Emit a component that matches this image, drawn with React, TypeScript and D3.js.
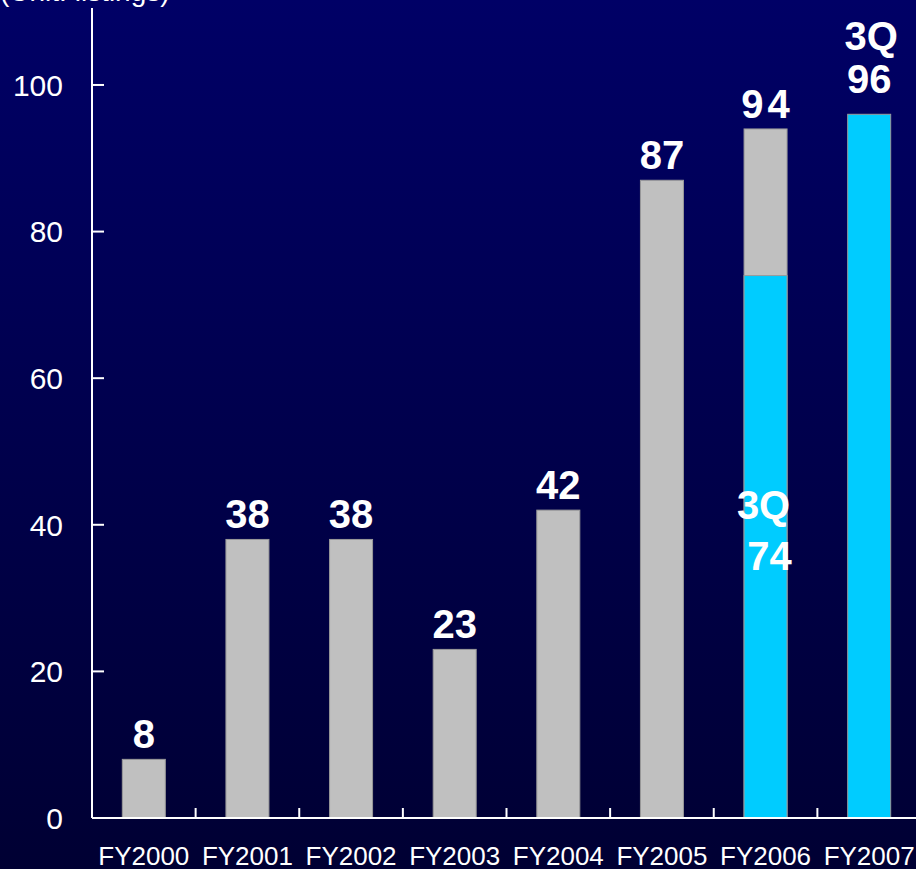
import React from "react";
import * as d3 from "d3";

const categories = ["FY2000", "FY2001", "FY2002", "FY2003", "FY2004", "FY2005", "FY2006", "FY2007"];
const fullYear = [8, 38, 38, 23, 42, 87, 94, null];
const thirdQuarter = [null, null, null, null, null, null, 74, 96];
const yTicks = [0, 20, 40, 60, 80, 100];
const unitLabel = "(Unit: listings)";

const W = 916;
const H = 869;
const GRAY = "#C0C0C0";
const CYAN = "#00CCFF";
const FONT = "'Liberation Sans', Arial, sans-serif";

export default function App() {
  const x = d3.scaleBand<string>().domain(categories).range([92, 921]).paddingInner(0.585).paddingOuter(0.2925);
  const y = d3.scaleLinear().domain([0, 110.5]).range([818, 8]);
  const step = x.step();
  const bw = x.bandwidth();

  return (
    <svg width={W} height={H} style={{ position: "absolute", left: 0, top: 0, display: "block" }}>
      <defs>
        <linearGradient id="bg" x1="0" y1="0" x2="0" y2="1">
          <stop offset="0" stopColor="#000066" />
          <stop offset="1" stopColor="#000033" />
        </linearGradient>
      </defs>
      <rect x={0} y={0} width={W} height={H} fill="url(#bg)" />

      <text x={0} y={1} fill="#fff" fontFamily={FONT} fontSize={28}>{unitLabel}</text>

      {/* bars */}
      {categories.map((c, i) => {
        const fy = fullYear[i];
        const q = thirdQuarter[i];
        const bx = x(c)!;
        return (
          <g key={c}>
            {fy != null && (
              <rect x={bx} y={y(fy)} width={bw} height={y(0) - y(fy)} fill={GRAY} stroke="#999" strokeWidth={1} />
            )}
            {q != null && (
              <rect x={bx} y={y(q)} width={bw} height={y(0) - y(q)} fill={CYAN} stroke="#9a9a9a" strokeWidth={1} />
            )}
          </g>
        );
      })}

      {/* value labels */}
      {categories.map((c, i) => {
        const fy = fullYear[i];
        const q = thirdQuarter[i];
        const cx = x(c)! + bw / 2;
        const els: React.ReactNode[] = [];
        if (fy != null) {
          els.push(
            <text key="fy" x={cx + (fy === 94 ? 2 : 0)} y={y(fy) - 11} textAnchor="middle" fill="#fff" fontFamily={FONT} fontWeight="bold" fontSize={40} letterSpacing={fy === 94 ? 4 : 0}>
              {fy}
            </text>
          );
          if (q != null) {
            const mid = y(q / 2);
            els.push(
              <text key="q1" x={cx - 2} y={mid - 28} textAnchor="middle" fill="#fff" fontFamily={FONT} fontWeight="bold" fontSize={40}>3Q</text>,
              <text key="q2" x={cx + 4} y={mid + 23} textAnchor="middle" fill="#fff" fontFamily={FONT} fontWeight="bold" fontSize={40}>{q}</text>
            );
          }
        } else if (q != null) {
          els.push(
            <text key="q1" x={cx + 2} y={y(q) - 64} textAnchor="middle" fill="#fff" fontFamily={FONT} fontWeight="bold" fontSize={40}>3Q</text>,
            <text key="q2" x={cx} y={y(q) - 21} textAnchor="middle" fill="#fff" fontFamily={FONT} fontWeight="bold" fontSize={40}>{q}</text>
          );
        }
        return <g key={c}>{els}</g>;
      })}

      {/* y axis */}
      <line x1={92} x2={92} y1={y(0)} y2={y(110.5)} stroke="#fff" strokeWidth={2} />
      {yTicks.map((t) => (
        <g key={t}>
          <line x1={92} x2={104} y1={y(t)} y2={y(t)} stroke="#fff" strokeWidth={2} />
          <text x={63} y={y(t)} dy="0.36em" textAnchor="end" fill="#fff" fontFamily={FONT} fontSize={30}>{t}</text>
        </g>
      ))}

      {/* x axis */}
      <line x1={92} x2={W} y1={y(0)} y2={y(0)} stroke="#fff" strokeWidth={2} />
      {categories.slice(1).map((c) => (
        <line key={c} x1={x(c)! - (step - bw) / 2} x2={x(c)! - (step - bw) / 2} y1={y(0)} y2={y(0) - 10} stroke="#fff" strokeWidth={2} />
      ))}
      {categories.map((c) => (
        <text key={c} x={x(c)! + bw / 2} y={865} textAnchor="middle" fill="#fff" fontFamily={FONT} fontSize={26}>{c}</text>
      ))}
    </svg>
  );
}
